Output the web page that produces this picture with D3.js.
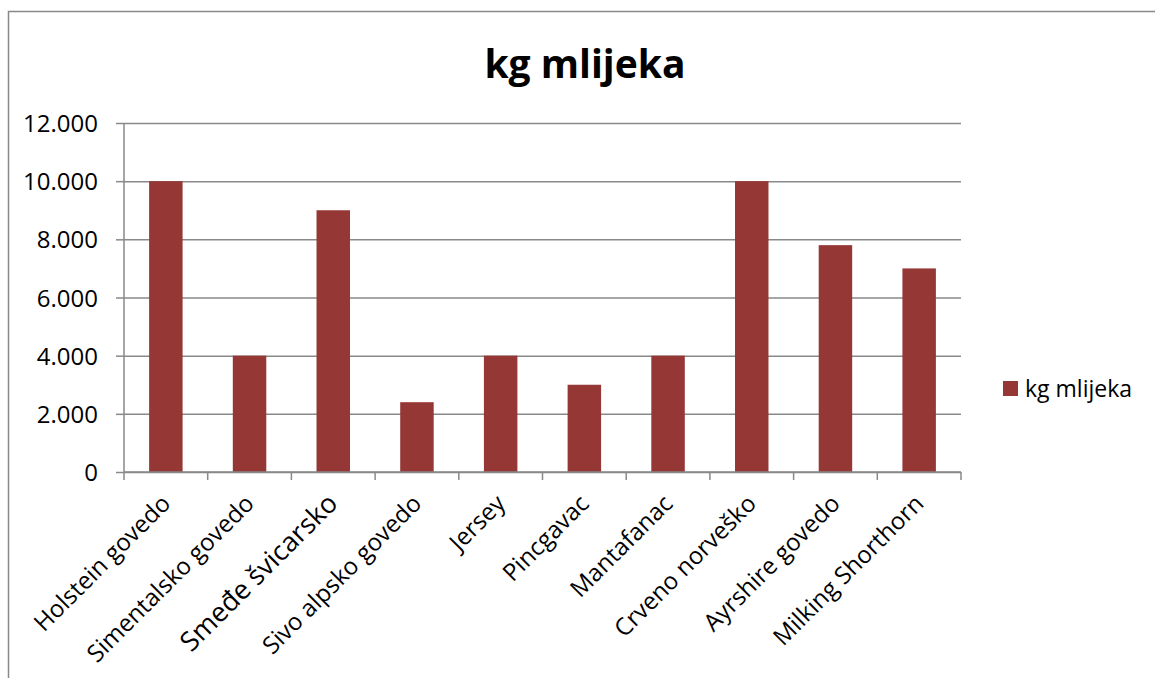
<!DOCTYPE html>
<html>
<head>
<meta charset="utf-8">
<script src="https://cdn.jsdelivr.net/npm/d3@7"></script>
<style>
	body { margin: 0; background: #fff; }
	text { font-family: "Open Sans", sans-serif; fill: #000; }
</style>
</head>
<body>
<div id="chart"></div>
<script>
// data
const breeds = [
	"Holstein govedo",
	"Simentalsko govedo",
	"Smeđe švicarsko",
	"Sivo alpsko govedo",
	"Jersey",
	"Pincgavac",
	"Mantafanac",
	"Crveno norveško",
	"Ayrshire govedo",
	"Milking Shorthorn",
];
const milkKg = [10000, 4000, 9000, 2400, 4000, 3000, 4000, 10000, 7800, 7000];
const yTicks = [0, 2000, 4000, 6000, 8000, 10000, 12000];
const seriesName = "kg mlijeka";
const chartTitle = "kg mlijeka";

const W = 1155, H = 678;
const margin = { top: 123, left: 124, right: 194, bottom: 206 };
const width = W - margin.left - margin.right;
const height = H - margin.top - margin.bottom;

const svg = d3.select("#chart").append("svg").attr("width", W).attr("height", H);

// outer chart frame (cut off on right and bottom)
svg.append("rect")
	.attr("x", 8.5).attr("y", 11.5)
	.attr("width", W + 20).attr("height", H + 20)
	.attr("fill", "none").attr("stroke", "#898989").attr("stroke-width", 1.5);

svg.append("text")
	.attr("x", 585).attr("y", 78)
	.attr("text-anchor", "middle")
	.style("font-size", "39px").style("font-weight", "bold")
	.text(chartTitle);

const g = svg.append("g").attr("transform", `translate(${margin.left}, ${margin.top})`);

const x = d3.scaleBand().domain(breeds).range([0, width]).paddingInner(0.6).paddingOuter(0.3);
const y = d3.scaleLinear().domain([0, 12000]).range([height, 0]);

const fmt = d3.formatLocale({ decimal: ",", thousands: ".", grouping: [3], currency: ["", ""] }).format(",d");

// gridlines
g.append("g")
	.call(d3.axisLeft(y).tickValues(yTicks).tickSize(-width).tickFormat(""))
	.call((a) => a.select(".domain").remove())
	.selectAll("line").attr("stroke", "#898989").attr("stroke-width", 1.5);

// y axis
const ya = g.append("g").call(d3.axisLeft(y).tickValues(yTicks).tickSize(8).tickPadding(18).tickFormat(fmt));
ya.select(".domain").attr("stroke", "#898989").attr("stroke-width", 1.5).attr("d", `M0,${height}V0`);
ya.selectAll("line").attr("stroke", "#898989").attr("stroke-width", 1.5);
ya.selectAll("text").style("font-size", "24px").attr("dy", "0.36em");

// bars
g.selectAll(".bar")
	.data(milkKg)
	.join("rect")
	.attr("class", "bar")
	.attr("x", (d, i) => x(breeds[i]))
	.attr("y", (d) => y(d))
	.attr("width", x.bandwidth())
	.attr("height", (d) => height - y(d))
	.attr("fill", "#953735");

// x axis with ticks between categories
const step = x.step();
const bounds = d3.range(breeds.length + 1).map((i) => i * step);
const xa = g.append("g").attr("transform", `translate(0, ${height})`);
xa.append("line").attr("x1", 0).attr("x2", width).attr("stroke", "#898989").attr("stroke-width", 1.5);
xa.selectAll(".tk")
	.data(bounds)
	.join("line")
	.attr("x1", (d) => d).attr("x2", (d) => d)
	.attr("y1", 0).attr("y2", 8)
	.attr("stroke", "#898989").attr("stroke-width", 1.5);

xa.selectAll(".lbl")
	.data(breeds)
	.join("text")
	.attr("transform", (d) => `translate(${x(d) + x.bandwidth() / 2 + 6}, 33) rotate(-45)`)
	.attr("text-anchor", "end")
	.style("font-size", (d) => (d === "Smeđe švicarsko" ? "27px" : "24px"))
	.text((d) => d);

// legend
const lg = svg.append("g").attr("transform", "translate(1003, 381)");
lg.append("rect").attr("width", 15).attr("height", 15).attr("fill", "#953735");
lg.append("text").attr("x", 22).attr("y", 16).style("font-size", "23px").text(seriesName);
</script>
</body>
</html>
